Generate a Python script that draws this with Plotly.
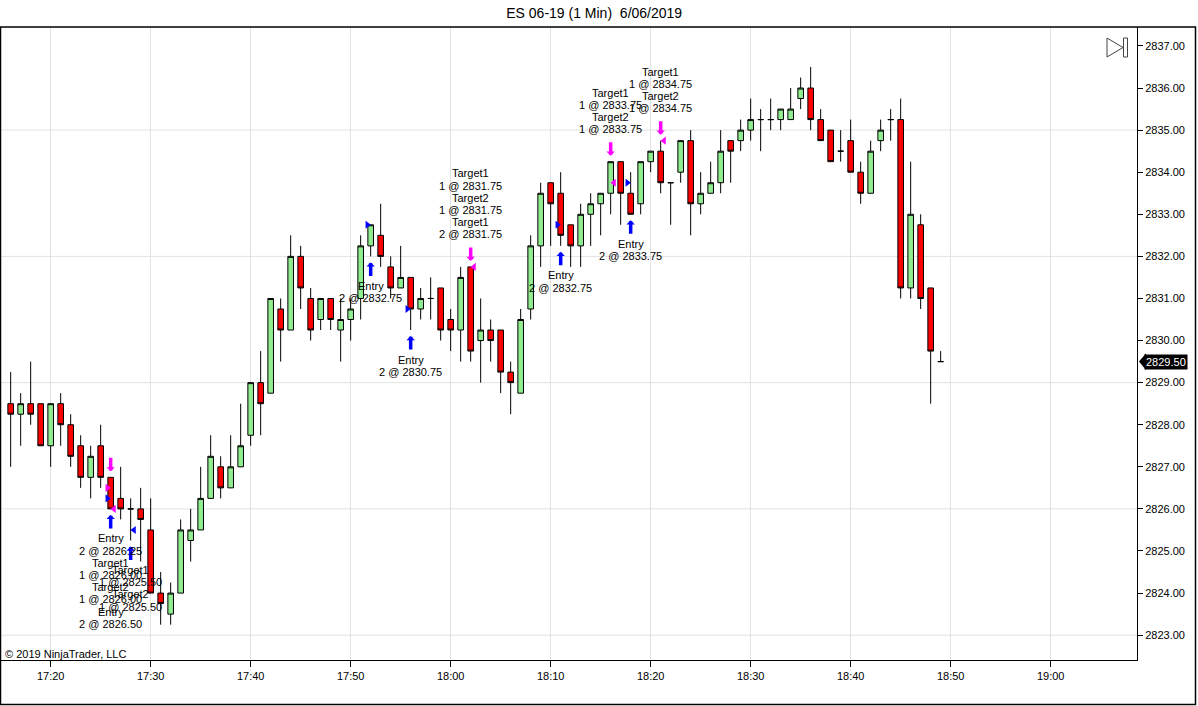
import plotly.graph_objects as go
import pandas as pd

title_text = "ES 06-19 (1 Min)  6/06/2019"
copyright_text = "© 2019 NinjaTrader, LLC"
session_date = "2019-06-06"
first_bar = "17:16"

# OHLC, one bar per minute from 17:16 to 18:49
opens = [2828.50, 2828.25, 2828.50, 2828.50, 2827.50, 2828.50, 2828.00, 2827.50, 2826.75, 2827.50,
         2826.75, 2826.25, 2826.00, 2826.00, 2825.50, 2824.00, 2823.50, 2824.00, 2825.25, 2825.50,
         2826.25, 2827.00, 2826.50, 2827.00, 2827.75, 2829.00, 2828.75, 2830.75, 2830.25, 2832.00,
         2831.00, 2830.50, 2831.00, 2830.25, 2830.50, 2831.00, 2832.25, 2832.50, 2831.75, 2831.25,
         2831.50, 2830.75, 2831.00, 2831.25, 2830.50, 2830.25, 2831.75, 2830.00, 2830.25, 2830.25,
         2829.25, 2828.75, 2830.75, 2832.25, 2833.75, 2833.50, 2832.75, 2832.25, 2833.00, 2833.25,
         2833.50, 2834.25, 2833.50, 2833.25, 2834.25, 2834.50, 2833.75, 2834.00, 2834.75, 2833.25,
         2833.50, 2833.75, 2834.75, 2834.75, 2835.00, 2835.25, 2835.25, 2835.25, 2835.25, 2835.75,
         2836.00, 2835.25, 2835.00, 2834.50, 2834.75, 2834.00, 2833.50, 2834.75, 2835.25, 2835.25,
         2831.25, 2832.75, 2831.25, 2829.50]
highs = [2829.25, 2828.75, 2829.50, 2828.50, 2828.50, 2828.75, 2828.25, 2827.75, 2827.50, 2828.00,
         2826.75, 2827.00, 2826.25, 2826.50, 2826.25, 2824.50, 2824.25, 2825.75, 2826.00, 2827.00,
         2827.75, 2827.25, 2827.75, 2828.50, 2829.00, 2829.75, 2831.00, 2831.00, 2832.50, 2832.25,
         2831.25, 2831.00, 2831.00, 2831.00, 2831.00, 2832.50, 2832.75, 2833.25, 2832.00, 2832.25,
         2831.50, 2831.25, 2831.50, 2831.25, 2830.75, 2831.75, 2831.75, 2831.00, 2830.50, 2830.25,
         2829.50, 2830.75, 2832.50, 2833.75, 2833.75, 2834.00, 2832.75, 2833.25, 2833.50, 2833.50,
         2834.25, 2834.25, 2834.00, 2834.25, 2834.50, 2834.75, 2833.75, 2834.75, 2835.00, 2834.00,
         2834.25, 2835.00, 2834.75, 2835.25, 2835.75, 2835.50, 2835.75, 2835.50, 2836.00, 2836.25,
         2836.50, 2835.50, 2835.00, 2835.00, 2835.25, 2834.25, 2834.75, 2835.25, 2835.50, 2835.75,
         2834.25, 2833.00, 2831.25, 2829.75]
lows = [2827.00, 2827.50, 2828.00, 2827.50, 2827.00, 2827.50, 2827.00, 2826.50, 2826.25, 2826.50,
        2826.00, 2825.75, 2825.25, 2824.75, 2824.00, 2823.25, 2823.25, 2824.00, 2824.75, 2825.50,
        2826.25, 2826.25, 2826.50, 2827.00, 2827.50, 2827.75, 2828.75, 2829.50, 2830.25, 2830.75,
        2830.00, 2830.25, 2830.25, 2829.50, 2830.00, 2830.50, 2832.00, 2831.75, 2831.00, 2831.25,
        2830.25, 2830.50, 2830.50, 2830.00, 2829.75, 2829.50, 2829.50, 2829.00, 2829.50, 2828.75,
        2828.25, 2828.75, 2830.50, 2831.75, 2832.25, 2832.25, 2831.75, 2831.75, 2832.25, 2832.50,
        2833.00, 2832.75, 2833.00, 2833.00, 2834.00, 2833.50, 2832.75, 2833.75, 2832.50, 2833.00,
        2833.50, 2833.50, 2833.75, 2834.50, 2834.75, 2834.50, 2835.00, 2835.00, 2835.25, 2835.50,
        2835.00, 2834.75, 2834.25, 2834.25, 2834.00, 2833.25, 2833.50, 2834.50, 2834.75, 2831.00,
        2831.00, 2830.75, 2828.50, 2829.50]
closes = [2828.25, 2828.50, 2828.25, 2827.50, 2828.50, 2828.00, 2827.25, 2826.75, 2827.25, 2826.75,
          2826.00, 2826.00, 2826.00, 2825.75, 2824.00, 2823.75, 2824.00, 2825.50, 2825.50, 2826.25,
          2827.25, 2826.50, 2827.00, 2827.50, 2829.00, 2828.50, 2831.00, 2830.25, 2832.00, 2831.25,
          2830.25, 2831.00, 2830.50, 2830.50, 2830.75, 2832.25, 2832.75, 2832.00, 2831.25, 2831.50,
          2830.75, 2831.00, 2831.00, 2830.25, 2830.25, 2831.50, 2829.75, 2830.25, 2830.00, 2829.25,
          2829.00, 2830.50, 2832.25, 2833.50, 2833.25, 2832.50, 2832.25, 2833.00, 2833.25, 2833.50,
          2834.25, 2833.50, 2833.00, 2834.25, 2834.50, 2833.75, 2833.75, 2834.75, 2833.25, 2833.50,
          2833.75, 2834.50, 2834.50, 2835.00, 2835.25, 2835.25, 2835.25, 2835.50, 2835.50, 2836.00,
          2835.25, 2834.75, 2834.25, 2834.50, 2834.00, 2833.50, 2834.50, 2835.00, 2835.25, 2831.25,
          2833.00, 2831.00, 2829.75, 2829.50]

# executions (small triangles beside the bars)
exec_times = ["17:26", "17:26", "17:26", "17:28", "17:52", "17:56", "18:02", "18:11", "18:16", "18:18", "18:21"]
exec_prices = [2826.50, 2826.25, 2826.00, 2825.50, 2832.75, 2830.75, 2831.75, 2832.75, 2833.75, 2833.75, 2834.75]
exec_sides = ["sell", "buy", "sell", "buy", "buy", "buy", "sell", "buy", "sell", "buy", "sell"]
exec_pointing = ["right", "right", "left", "left", "right", "right", "left", "right", "left", "right", "left"]

# signal arrows
buy_arrow_times = ["17:26", "17:28", "17:52", "17:56", "18:11", "18:18"]
sell_arrow_times = ["17:26", "18:02", "18:16", "18:21"]

# execution labels
labels_below = {
    "17:26": ["Entry", "2 @ 2826.25", "Target1", "1 @ 2826.00", "Target2", "1 @ 2826.00", "Entry", "2 @ 2826.50"],
    "17:28": ["Target1", "1 @ 2825.50", "Target2", "1 @ 2825.50"],
    "17:52": ["Entry", "2 @ 2832.75"],
    "17:56": ["Entry", "2 @ 2830.75"],
    "18:11": ["Entry", "2 @ 2832.75"],
    "18:18": ["Entry", "2 @ 2833.75"],
}
labels_above = {
    "18:02": ["Target1", "1 @ 2831.75", "Target2", "1 @ 2831.75", "Target1", "2 @ 2831.75"],
    "18:16": ["Target1", "1 @ 2833.75", "Target2", "1 @ 2833.75"],
    "18:21": ["Target1", "1 @ 2834.75", "Target2", "1 @ 2834.75"],
}

y_tick_values = [2823, 2824, 2825, 2826, 2827, 2828, 2829, 2830, 2831, 2832, 2833, 2834, 2835, 2836, 2837]
y_grid_values = [2823, 2826, 2829, 2832, 2835]
x_view = ["2019-06-06 17:15:02", "2019-06-06 19:08:38"]
y_view = [2822.41, 2837.45]

FONT = "Liberation Sans, Arial, sans-serif"
BLUE = "#0000ff"
MAGENTA = "#ff00ff"

times = pd.date_range(f"{session_date} {first_bar}", periods=len(opens), freq="1min")
t_index = {t.strftime("%H:%M"): i for i, t in enumerate(times)}


def ts(hm):
    return pd.Timestamp(f"{session_date} {hm}")


fig = go.Figure()
fig.add_trace(go.Candlestick(
    x=times, open=opens, high=highs, low=lows, close=closes,
    increasing=dict(line=dict(color="black", width=1), fillcolor="#90ee90"),
    decreasing=dict(line=dict(color="black", width=1), fillcolor="#ff0000"),
    whiskerwidth=0, hoverinfo="skip", showlegend=False,
))

# execution triangles
side_off = pd.Timedelta(seconds=20)
for side, point in [("buy", "right"), ("buy", "left"), ("sell", "right"), ("sell", "left")]:
    xs, ys = [], []
    for t, p, s, d in zip(exec_times, exec_prices, exec_sides, exec_pointing):
        if s == side and d == point:
            xs.append(ts(t) - side_off if d == "right" else ts(t) + side_off)
            ys.append(p)
    if xs:
        fig.add_trace(go.Scatter(
            x=xs, y=ys, mode="markers", hoverinfo="skip", showlegend=False,
            marker=dict(symbol=f"triangle-{point}", size=7,
                        color=BLUE if side == "buy" else MAGENTA, line=dict(width=0)),
        ))

ARROW = dict(text="", showarrow=True, axref="pixel", ayref="pixel", ax=0, arrowhead=1,
             arrowsize=0.4, arrowwidth=3.5, standoff=0, startstandoff=0, xref="x", yref="y")
annotations = []
for t in buy_arrow_times:
    i = t_index[t]
    annotations.append(dict(ARROW, x=times[i], y=lows[i], ay=15, arrowcolor=BLUE, yshift=-6))
for t in sell_arrow_times:
    i = t_index[t]
    annotations.append(dict(ARROW, x=times[i], y=highs[i], ay=-15, arrowcolor=MAGENTA, yshift=6))

LINE_H = 12.2
for t, lines in labels_below.items():
    i = t_index[t]
    for k, line in enumerate(lines):
        annotations.append(dict(x=times[i], y=lows[i], xref="x", yref="y", text=line, showarrow=False,
                                yshift=-(29.5 + LINE_H * k), xanchor="center", yanchor="middle",
                                font=dict(family=FONT, size=11, color="black")))
for t, lines in labels_above.items():
    i = t_index[t]
    n = len(lines)
    for k, line in enumerate(lines):
        annotations.append(dict(x=times[i], y=highs[i], xref="x", yref="y", text=line, showarrow=False,
                                yshift=(32.5 + LINE_H * (n - 1 - k)), xanchor="center", yanchor="middle",
                                font=dict(family=FONT, size=11, color="black")))

# pixel helpers for chrome (plot area: x 1..1137, y 27..660)
PL, PR, PT, PB = 1, 1137, 27, 660


def pxx(px):
    return (px - PL) / (PR - PL)


def pxy(py):
    return (PB - py) / (PB - PT)


annotations.append(dict(x=pxx(3), y=pxy(654), xref="paper", yref="paper", text=copyright_text,
                        showarrow=False, xanchor="left", yanchor="middle",
                        font=dict(family=FONT, size=11, color="black")))

last_price = closes[-1]
annotations.append(dict(x=1, y=last_price, xref="paper", yref="y", text=f"{last_price:.2f}",
                        showarrow=False, xanchor="left", yanchor="middle", xshift=7,
                        bgcolor="black", borderpad=1,
                        font=dict(family=FONT, size=11, color="white")))

shapes = []
for g in y_grid_values:
    shapes.append(dict(type="line", xref="paper", yref="y", x0=0, x1=1, y0=g, y1=g,
                       line=dict(color="#e2e2e2", width=1), layer="below"))
# price marker pointer
shapes.append(dict(type="path", xref="paper", yref="y",
                   path=f"M {pxx(1139)},{last_price} L {pxx(1146)},{last_price + 0.2} "
                        f"L {pxx(1146)},{last_price - 0.2} Z",
                   fillcolor="black", line=dict(width=0)))
# outer panel frame
shapes.append(dict(type="rect", xref="paper", yref="paper", x0=pxx(0.5), x1=pxx(1195.5),
                   y0=pxy(704.5), y1=pxy(27), line=dict(color="black", width=1.5)))
# scroll-to-end icon
shapes.append(dict(type="path", xref="paper", yref="paper",
                   path=f"M {pxx(1107)},{pxy(38)} L {pxx(1123)},{pxy(47.5)} L {pxx(1107)},{pxy(57)} Z",
                   line=dict(color="#444444", width=1)))
shapes.append(dict(type="rect", xref="paper", yref="paper", x0=pxx(1123.5), x1=pxx(1127.5),
                   y0=pxy(57), y1=pxy(38), line=dict(color="#444444", width=1)))

fig.update_layout(
    width=1198, height=706,
    margin=dict(l=PL, r=1198 - PR, t=PT, b=706 - PB),
    paper_bgcolor="white", plot_bgcolor="white",
    font=dict(family=FONT, size=11, color="black"),
    title=dict(text=title_text, xref="container", yref="container", x=0.496, y=1 - 13.5 / 706,
               xanchor="center", yanchor="middle", font=dict(family=FONT, size=14, color="black")),
    xaxis=dict(type="date", range=x_view, tickformat="%H:%M", dtick=600000,
               tick0=f"{session_date} 17:00", ticks="outside", ticklen=6, tickcolor="black",
               showgrid=True, gridcolor="#e2e2e2", gridwidth=1, showline=True, linecolor="black",
               linewidth=1, zeroline=False, rangeslider=dict(visible=False),
               tickfont=dict(family=FONT, size=11, color="black"), fixedrange=True),
    yaxis=dict(side="right", range=y_view, tickvals=y_tick_values, tickformat=".2f",
               ticks="outside", ticklen=5, tickcolor="black", showgrid=False, showline=True,
               linecolor="black", linewidth=1, zeroline=False,
               tickfont=dict(family=FONT, size=11, color="black"), fixedrange=True),
    annotations=annotations, shapes=shapes, boxgap=0.2, showlegend=False,
    hovermode=False,
)

fig.write_html("out.html", config={"displayModeBar": False},
               post_script="document.body.style.margin='0px';document.body.style.overflow='hidden';")
